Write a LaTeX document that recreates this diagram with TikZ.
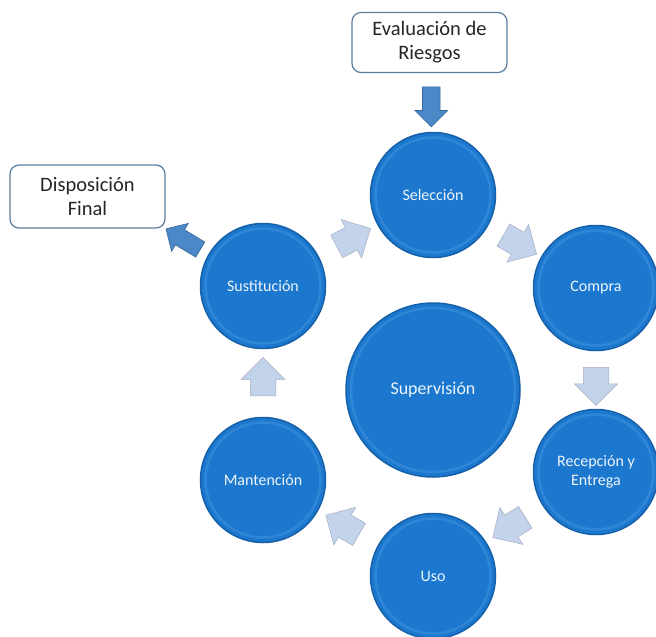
\documentclass[tikz,border=0pt]{standalone}
\usepackage{fontspec}
\setmainfont{Carlito}
\usetikzlibrary{shapes.arrows,calc}

\definecolor{azulEtapa}{HTML}{1C78CE}
\definecolor{azulBorde}{HTML}{1560A8}
\definecolor{azulBrillo}{HTML}{2F86D6}
\definecolor{flechaClara}{HTML}{C3D3EC}
\definecolor{flechaGris}{HTML}{A3AEC0}
\definecolor{flechaOscura}{HTML}{4B88C8}
\definecolor{cajaBorde}{HTML}{5B7E9E}

\begin{document}
\begin{tikzpicture}[
        x=1pt, y=-1pt, % pixel units, y going down
        etapa/.style={circle, fill=azulEtapa, draw=azulBorde, line width=1.5pt,
            minimum size=125pt, inner sep=0pt, align=center,
            text=white!92!azulEtapa, font=\fontsize{16}{19}\selectfont,
            path picture={\draw[azulBrillo, line width=2.5pt]
                (path picture bounding box.center) circle[radius=0.5*\pgfkeysvalueof{/pgf/minimum width}-5pt];}},
        caja/.style={draw=cajaBorde, line width=1.2pt, rounded corners=9pt, fill=white,
            minimum width=155pt, minimum height=60pt, align=center,
            font=\fontsize{20.5}{24}\selectfont, text=black!85},
        paso/.style={single arrow, fill=flechaClara, draw=flechaGris, line width=0.5pt,
            inner sep=12.5pt, single arrow head extend=9pt, minimum height=36pt},
        salida/.style={single arrow, fill=flechaOscura, draw=flechaOscura!75!black, line width=0.6pt,
            inner sep=8.5pt, single arrow head extend=7.5pt, minimum height=40pt}
    ]

    \clip (0,0) rectangle (656,637);
    \fill[white] (0,0) rectangle (656,637);

    % centre
    \node[etapa, minimum size=174pt, font=\fontsize{18}{22}\selectfont] (sup) at (433,390) {Supervisión};

    % the cycle
    \node[etapa] (sel)  at (433,195) {Selección};
    \node[etapa] (comp) at (596,288) {Compra};
    \node[etapa] (rec)  at (596,472) {Recepción y\\Entrega};
    \node[etapa] (uso)  at (433,576) {Uso};
    \node[etapa] (mant) at (263,480) {Mantención};
    \node[etapa] (sust) at (263,286) {Sustitución};

    % light arrows between the steps
    \node[paso, rotate=-30]  (p1) at ($(sel)!0.5!(comp)$) {};
    \node[paso, rotate=-90]  (p2) at ($(comp)!0.5!(rec)$) {};
    \node[paso, rotate=212]  (p3) at ($(rec)!0.5!(uso)$) {};
    \node[paso, rotate=150]  (p4) at ($(uso)!0.5!(mant)$) {};
    \node[paso, rotate=90]   (p5) at ($(mant)!0.5!(sust)$) {};
    \node[paso, rotate=28]   (p6) at ($(sust)!0.5!(sel)$) {};

    % boxes outside
    \node[caja] (eval) at (429.5,42.5) {Evaluación de\\Riesgos};
    \node[caja, minimum height=63pt] (disp) at (87.5,196.5) {Disposición\\Final};

    \node[salida, rotate=-90] (e1) at ($(eval.south)!0.5!(sel.north)$) {};
    \node[salida, rotate=149] (e2) at ($(sust.150)!0.5!(disp.south east)$) {};

\end{tikzpicture}
\end{document}
